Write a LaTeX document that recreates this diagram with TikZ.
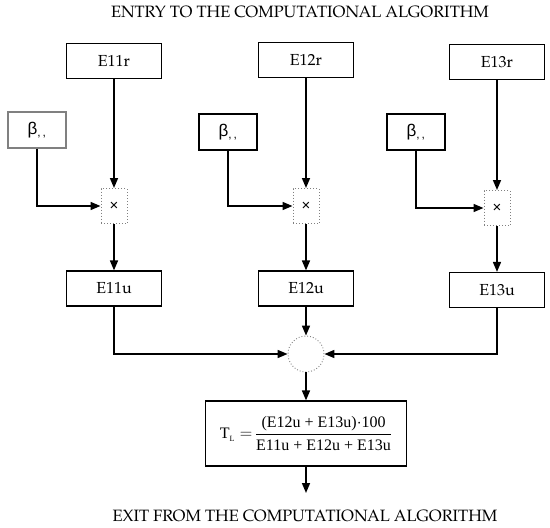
\documentclass[tikz,border=0pt]{standalone}
\usepackage{fontspec}
\setmainfont{TeX Gyre Pagella}
\newfontfamily\sansfont{Liberation Sans}
\newfontfamily\timesfont{Liberation Serif}
\usetikzlibrary{arrows.meta}

\begin{document}
\begin{tikzpicture}[x=1pt,y=-1pt,
    box/.style={draw,line width=1.2pt,minimum width=95pt,minimum height=35pt,
        font=\fontsize{16}{18}\selectfont},
    betabox/.style={draw,line width=1.2pt,minimum width=58pt,minimum height=36pt,
        font=\sansfont\fontsize{17}{19}\selectfont},
    mulbox/.style={draw=gray,dotted,line width=1pt,inner sep=0pt,
        minimum width=26pt,minimum height=35pt,font=\sansfont\fontsize{15}{17}\selectfont},
    sumnode/.style={draw=gray,dotted,circle,line width=0.9pt,inner sep=0pt,minimum size=36pt},
    arr/.style={line width=1.6pt,-{Triangle[length=10pt,width=8pt]}},
    title/.style={font=\fontsize{16.4}{18}\selectfont}]
    \useasboundingbox (0,0) rectangle (550,528);

    % Entry
    \node[title] (entry) at (300,12) {ENTRY TO THE COMPUTATIONAL ALGORITHM};

    % Draw input boxes
    \node[box] (E11r) at (114,61) {E11r};
    \node[box] (E12r) at (306,60) {E12r};
    \node[box] (E13r) at (497,62) {E13r};

    % Draw beta boxes
    \node[betabox,draw=gray] (beta1) at (37,130) {β\textsubscript{,\,,}};
    \node[betabox] (beta2) at (228,132) {β\textsubscript{,\,,}};
    \node[betabox] (beta3) at (416,132) {β\textsubscript{,\,,}};

    % Draw products
    \node[mulbox] (mul1) at (114,206) {×};
    \node[mulbox] (mul2) at (306,206) {×};
    \node[mulbox] (mul3) at (497,208) {×};

    % Draw output boxes
    \node[box] (E11u) at (114,288.5) {E11u};
    \node[box] (E12u) at (306,288.5) {E12u};
    \node[box] (E13u) at (497,290) {E13u};

    % Draw sum and result
    \node[sumnode] (sum) at (306,354) {};
    \node[box,minimum width=201pt,minimum height=65pt] (TL) at (306,433.5)
        {\timesfont\fontsize{16}{19}\selectfont
         T\raisebox{-3pt}{\fontsize{8}{9}\selectfont L}\,\,$=$\,$\displaystyle
         \frac{\mbox{(E12u + E13u)$\cdot$100}}{\mbox{E11u + E12u + E13u}}$};
    \coordinate (out) at (306,493);
    \node[title] (exit) at (305,516) {EXIT FROM THE COMPUTATIONAL ALGORITHM};

    % Draw connectors
    \draw[arr] (E11r) -- (mul1);
    \draw[arr] (E12r) -- (mul2);
    \draw[arr] (E13r) -- (mul3);
    \draw[arr] (beta1.south) |- (mul1.west);
    \draw[arr] (beta2.south) |- (mul2.west);
    \draw[arr] (beta3.south) |- (mul3.west);
    \draw[arr] (mul1) -- (E11u);
    \draw[arr] (mul2) -- (E12u);
    \draw[arr] (mul3) -- (E13u);
    \draw[arr] (E11u.south) |- (sum.west);
    \draw[arr] (E13u.south) |- (sum.east);
    \draw[arr] (E12u) -- (sum);
    \draw[arr] (sum) -- (TL);
    \draw[arr] (TL) -- (out);
\end{tikzpicture}
\end{document}
